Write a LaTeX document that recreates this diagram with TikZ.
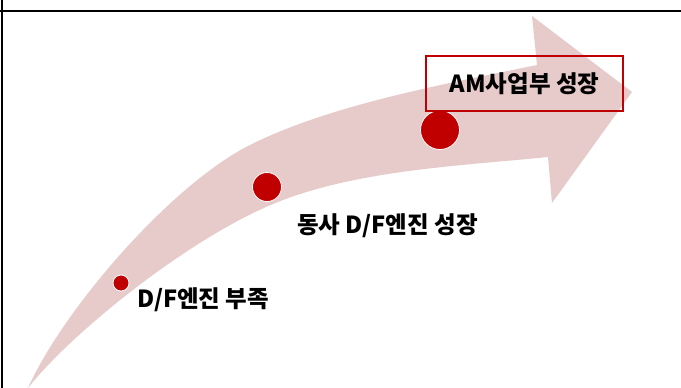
\documentclass[tikz,border=0pt]{standalone}
\usepackage{fontspec}
\newfontfamily\kr{Noto Sans CJK KR}
\definecolor{arrowpink}{RGB}{231,202,202}
\definecolor{darkred}{RGB}{192,0,0}
\tikzset{
  dot/.style={circle, fill=darkred, draw=white, line width=0.8pt, inner sep=0pt},
  lbl/.style={font=\kr\bfseries\fontsize{23.5}{26}\selectfont, inner sep=0pt, anchor=base west},
  redbox/.style={draw=darkred, line width=2pt, minimum width=197pt, minimum height=55pt, inner sep=0pt,
    font=\kr\bfseries\fontsize{23.5}{26}\selectfont}
}
\begin{document}
\begin{tikzpicture}[x=1pt,y=-1pt]
\useasboundingbox (0,0) rectangle (681,388);
\fill[white] (0,0) rectangle (681,388);
% curved arrow
\fill[arrowpink] (28,388) .. controls (64,308) and (172,184) .. (250,145)
  .. controls (330,105) and (440,85) .. (537,65)
  -- (532,16) -- (632,92) -- (552,203) -- (548,157)
  .. controls (458,166) and (363,170) .. (283,200)
  .. controls (193,234) and (71,333) .. (28,388) -- cycle;
% frame lines
\draw[line width=2pt] (0,11) -- (681,11);
\draw[line width=2pt] (2,0) -- (2,388);
% milestones
\node[dot, minimum size=16pt] (p1) at (121,283) {};
\node[dot, minimum size=29pt] (p2) at (267,187) {};
\node[dot, minimum size=39pt] (p3) at (440,130) {};
\node[lbl] (t1) at (137,307) {D/F엔진 부족};
\node[lbl] (t2) at (297,233) {동사 D/F엔진 성장};
\node[redbox] (box) at (524.5,83.5) {AM사업부 성장};
\end{tikzpicture}
\end{document}
